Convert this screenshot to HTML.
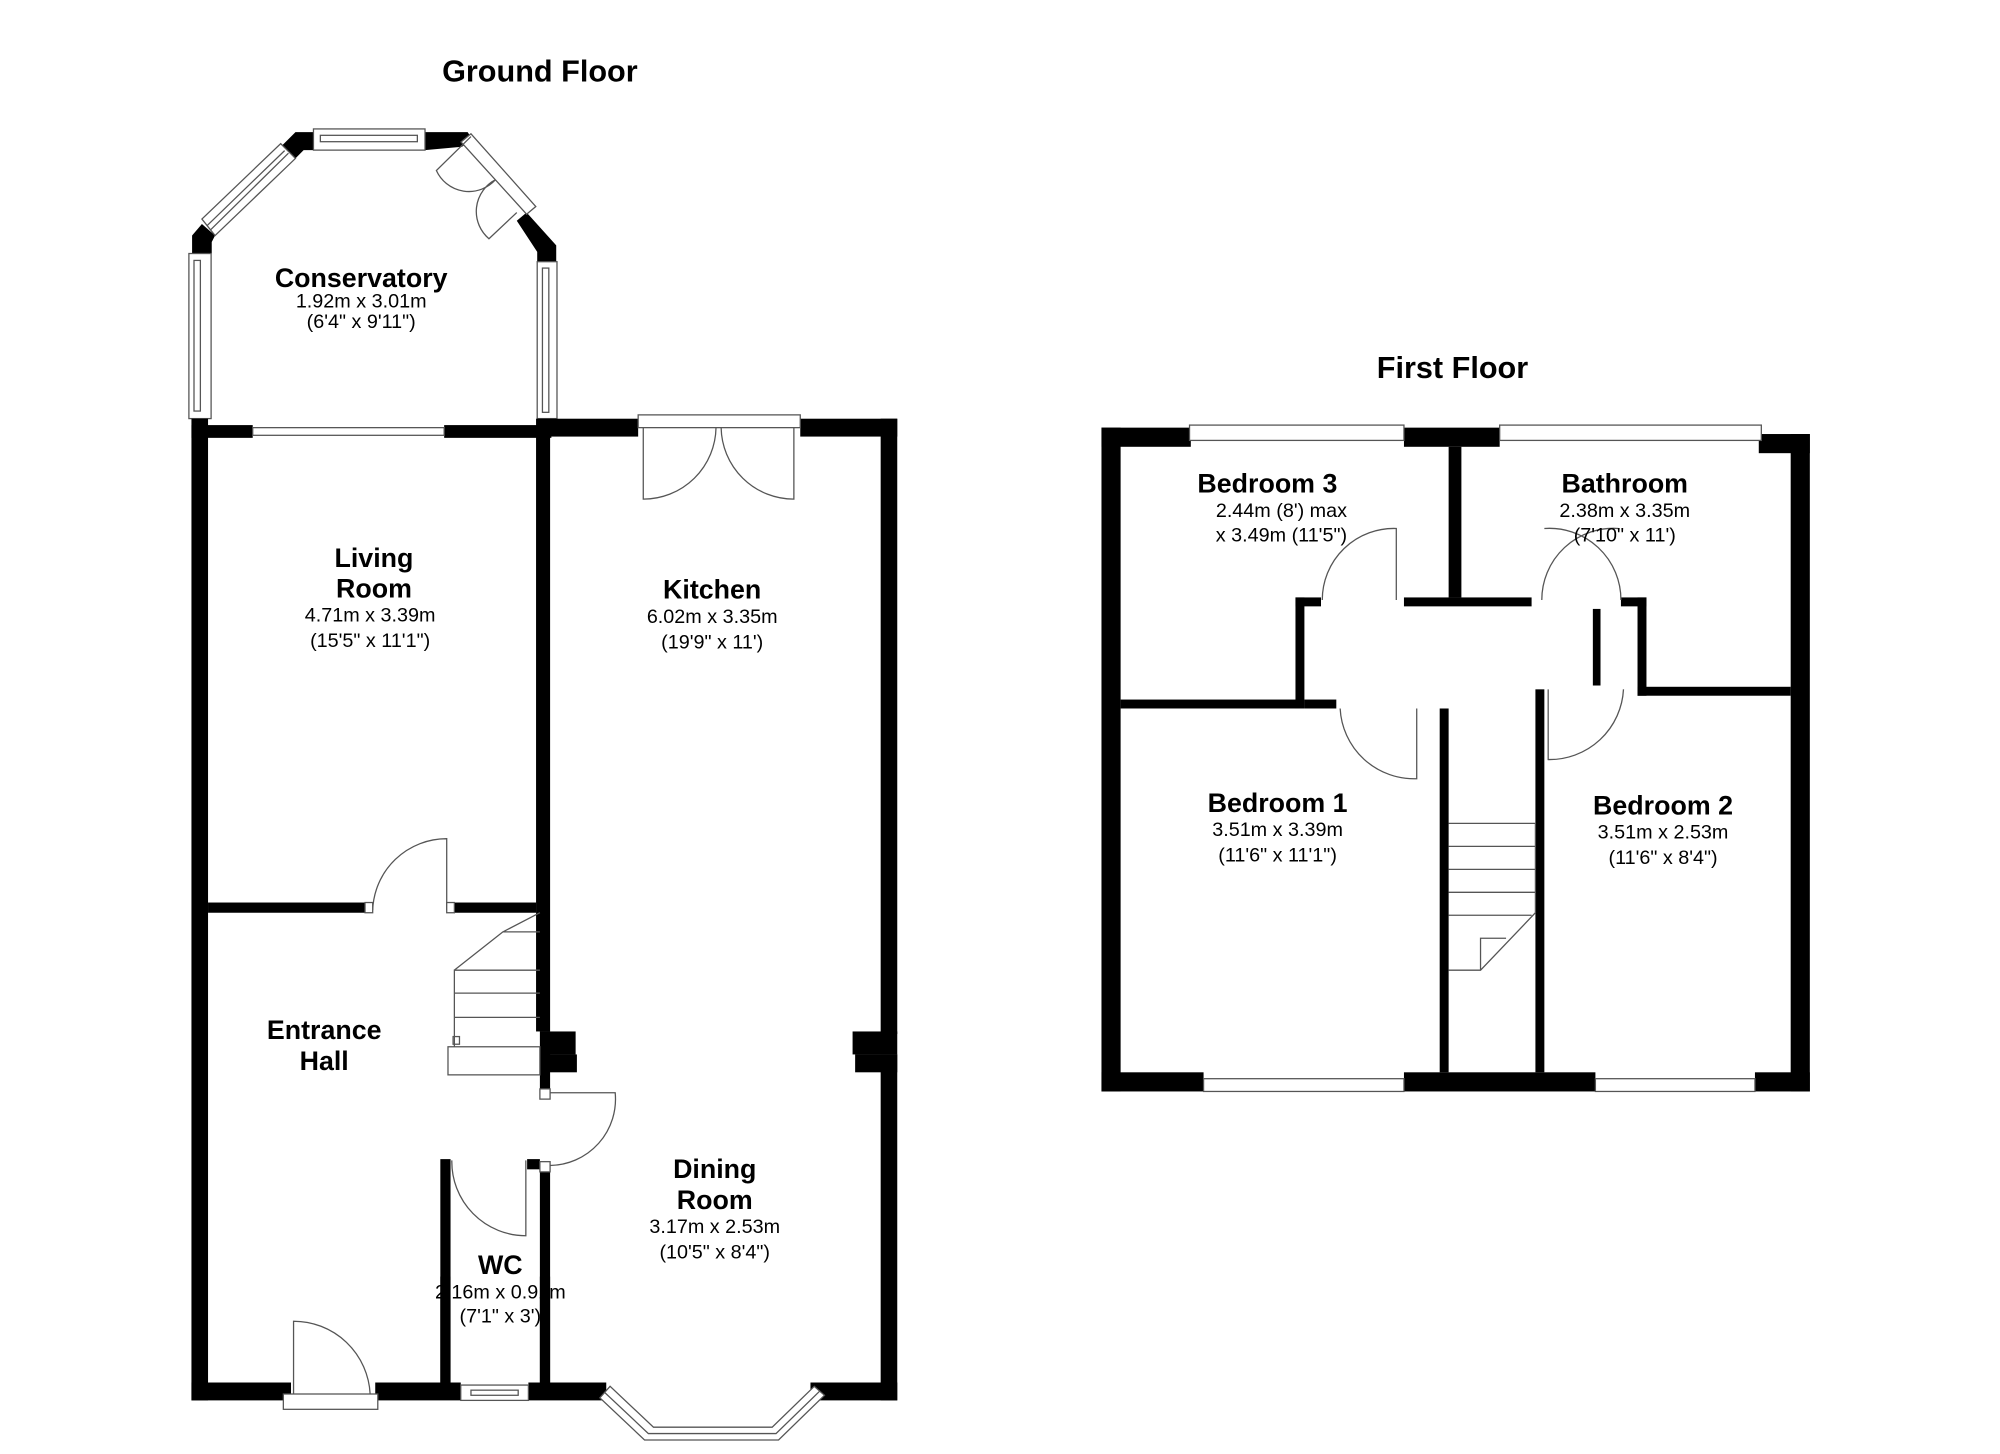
<!DOCTYPE html>
<html><head><meta charset="utf-8"><style>
html,body{margin:0;padding:0;background:#fff}
svg{display:block}
text{font-family:"Liberation Sans",Arial,sans-serif;fill:#000;text-anchor:middle}
.b{font-weight:bold;font-size:21px}
.s{font-size:15.5px}
.t{font-weight:bold;font-size:24px}
.w{fill:#fff;stroke:#555;stroke-width:1}
.l{fill:none;stroke:#555;stroke-width:1}
</style></head><body>
<svg width="2000" height="1454" viewBox="0 0 1567 1139" preserveAspectRatio="none" xmlns="http://www.w3.org/2000/svg">
<text class="t" x="423" y="64">Ground Floor</text>
<text class="t" x="1138" y="296">First Floor</text>

<!-- Conservatory -->
<g transform="translate(4,2)">
<g fill="#000">
<polygon points="227.5,101.5 241.6,101.5 241.6,115.6 233.9,115.6 227.5,122.1 217.2,111.8"/>
<polygon points="329,101.5 362.4,101.5 366,107 358,113 329,115.6"/>
<polygon points="154.2,173.5 164.5,182.5 161.9,187.6 161.9,196.6 146.5,196.6 146.5,182.5"/>
<polygon points="400.9,170.9 408.6,164.5 431.8,190.2 431.8,203 416.9,203 416.9,195.3"/>
</g>
<rect class="w" x="241.6" y="99" width="87.4" height="16.6"/>
<rect class="l" x="247" y="104" width="76" height="5"/>
<polygon class="w" points="215.9,110.5 227.5,122.1 164.5,182.5 154.2,169.6"/>
<path class="l" d="M219,116 L158,175 M222,118 L161,178"/>
<rect class="w" x="144" y="196.6" width="17.4" height="129.3"/>
<rect class="l" x="148" y="202" width="5" height="118"/>
<polygon class="w" points="365,102.8 415.8,159.8 408.6,165.8 357.2,109.2"/>
<path class="l" d="M365,105 L337.9,131.6 A28,28 0 0 0 384.2,138.8 M400.9,164.5 L379.1,185 A28,28 0 0 1 384.2,138.8"/>
<rect class="w" x="416.9" y="203" width="15.5" height="122.9"/>
<rect class="l" x="421" y="208" width="5" height="113"/>
</g>

<!-- Ground floor walls -->
<g fill="#000">
<rect x="150" y="328" width="13" height="769"/>
<rect x="150" y="333" width="48" height="10"/>
<rect x="348" y="333" width="84" height="10"/>
<rect x="420" y="328" width="80" height="14"/>
<rect x="627" y="328" width="76" height="14"/>
<rect x="690" y="328" width="13" height="482"/>
<rect x="668" y="808" width="35" height="18"/>
<rect x="670" y="826" width="33" height="14"/>
<rect x="690" y="826" width="13" height="271"/>
<rect x="420" y="333" width="11" height="475"/>
<rect x="429" y="808" width="22" height="18"/>
<rect x="429" y="826" width="23" height="14"/>
<rect x="423" y="808" width="8" height="45"/>
<rect x="163" y="707" width="125" height="8"/>
<rect x="356" y="707" width="64" height="8"/>
<rect x="345" y="908" width="8" height="177"/>
<rect x="423" y="918" width="8" height="170"/>
<rect x="413" y="908" width="10" height="8"/>
<rect x="150" y="1083" width="78" height="14"/>
<rect x="294" y="1083" width="67" height="14"/>
<rect x="414" y="1083" width="61" height="14"/>
<rect x="635" y="1083" width="68" height="14"/>
</g>
<rect class="w" x="198" y="335" width="150" height="6"/>
<rect class="w" x="500" y="325" width="127" height="10"/>
<path class="l" d="M504,335 V391 A57,57 0 0 0 561,335 M622,335 V391 A57,57 0 0 1 565,335"/>
<path class="l" d="M350,713 V657 A58,58 0 0 0 292,713"/>
<rect class="w" x="286" y="707" width="6" height="8"/><rect class="w" x="350" y="707" width="6" height="8"/>
<g class="l">
<rect x="351" y="820" width="72" height="22"/>
<path d="M356,820 V760 H423 M356,778 H423 M356,797 H423 M356,760 L394,730 H423 M394,730 L423,715"/>
<rect x="355" y="812" width="5" height="6"/>
</g>
<rect class="w" x="423" y="853" width="8" height="8"/>
<path class="l" d="M431,856 H482 A52,52 0 0 1 431,913"/>
<rect class="w" x="423" y="910" width="8" height="8"/>
<path class="l" d="M354,909 A58,58 0 0 0 412,968 V909"/>
<rect class="w" x="361" y="1085" width="53" height="12"/>
<rect class="l" x="369" y="1089" width="37" height="4"/>
<rect class="w" x="222" y="1092" width="74" height="12"/>
<path class="l" d="M230,1092 V1035 A60,60 0 0 1 290,1092"/>
<polygon class="w" points="470,1095 478,1086 512,1118 605,1118 638,1086 646,1093 610,1128 505,1128"/>
<path class="l" d="M474,1091 L508,1123 H608 L642,1090"/>

<text class="b" x="283" y="225">Conservatory</text>
<text class="s" x="283" y="241" font-size="14">1.92m x 3.01m</text>
<text class="s" x="283" y="257" font-size="14">(6'4" x 9'11")</text>
<text class="b" x="293" y="444">Living</text><text class="b" x="293" y="468">Room</text>
<text class="s" x="290" y="487">4.71m x 3.39m</text><text class="s" x="290" y="507">(15'5" x 11'1")</text>
<text class="b" x="558" y="469">Kitchen</text>
<text class="s" x="558" y="488">6.02m x 3.35m</text><text class="s" x="558" y="508">(19'9" x 11')</text>
<text class="b" x="254" y="814">Entrance</text><text class="b" x="254" y="838">Hall</text>
<text class="b" x="560" y="923">Dining</text><text class="b" x="560" y="947">Room</text>
<text class="s" x="560" y="966">3.17m x 2.53m</text><text class="s" x="560" y="986">(10'5" x 8'4")</text>
<text class="b" x="392" y="998">WC</text>
<text class="s" x="392" y="1017">2.16m x 0.91m</text><text class="s" x="392" y="1036">(7'1" x 3')</text>
<rect x="345" y="1000" width="8" height="83" fill="#000"/>
<rect x="423" y="1000" width="8" height="83" fill="#000"/>

<!-- First floor -->
<g fill="#000">
<rect x="863" y="335" width="15" height="520"/>
<rect x="863" y="335" width="70" height="15"/>
<rect x="1100" y="335" width="75" height="15"/>
<rect x="1378" y="340" width="40" height="15"/>
<rect x="1403" y="340" width="15" height="515"/>
<rect x="863" y="840" width="80" height="15"/>
<rect x="1100" y="840" width="150" height="15"/>
<rect x="1375" y="840" width="43" height="15"/>
<rect x="1135" y="350" width="10" height="118"/>
<rect x="878" y="548" width="140" height="7"/>
<rect x="1015" y="468" width="7" height="87"/>
<rect x="1015" y="468" width="20" height="7"/>
<rect x="1100" y="468" width="100" height="7"/>
<rect x="1270" y="468" width="20" height="7"/>
<rect x="1283" y="468" width="7" height="77"/>
<rect x="1283" y="538" width="120" height="7"/>
<rect x="1128" y="555" width="7" height="285"/>
<rect x="1203" y="540" width="7" height="300"/>
<rect x="1248" y="477" width="6" height="60"/>
<rect x="1022" y="548" width="25" height="7"/>
</g>
<rect class="w" x="932" y="333" width="168" height="12"/>
<rect class="w" x="1175" y="333" width="205" height="12"/>
<rect class="w" x="943" y="845" width="157" height="10"/>
<rect class="w" x="1250" y="845" width="125" height="10"/>
<path class="l" d="M1036,470 A56,56 0 0 1 1094,414 V470"/>
<path class="l" d="M1208,470 A56,56 0 0 1 1268,414"/>
<path class="l" d="M1270,470 A56,56 0 0 0 1210,414"/>
<path class="l" d="M1050,555 A58,58 0 0 0 1110,610 V555"/>
<path class="l" d="M1213,540 V595 A58,58 0 0 0 1272,540"/>
<g class="l">
<path d="M1135,645 H1203 V715 L1160,760 H1135 M1135,663 H1203 M1135,681 H1203 M1135,699 H1203 M1135,717 H1200 M1160,760 V735 L1180,735"/>
</g>
<text class="b" x="993" y="386">Bedroom 3</text>
<text class="s" x="1004" y="405">2.44m (8') max</text><text class="s" x="1004" y="424">x 3.49m (11'5")</text>
<text class="b" x="1273" y="386">Bathroom</text>
<text class="s" x="1273" y="405">2.38m x 3.35m</text><text class="s" x="1273" y="424">(7'10" x 11')</text>
<text class="b" x="1001" y="636">Bedroom 1</text>
<text class="s" x="1001" y="655">3.51m x 3.39m</text><text class="s" x="1001" y="675">(11'6" x 11'1")</text>
<text class="b" x="1303" y="638">Bedroom 2</text>
<text class="s" x="1303" y="657">3.51m x 2.53m</text><text class="s" x="1303" y="677">(11'6" x 8'4")</text>
</svg>
</body></html>
